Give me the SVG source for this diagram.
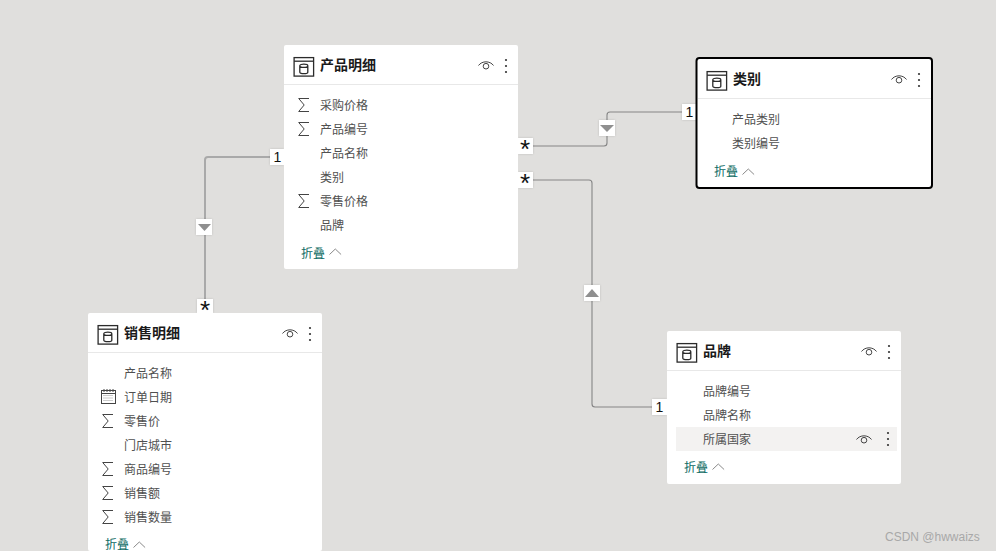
<svg xmlns="http://www.w3.org/2000/svg" width="996" height="551" viewBox="0 0 996 551">
<style>
text{font-family:"Noto Sans CJK SC","Liberation Sans",sans-serif}
.card{fill:#fff}
.rule{stroke:#e8e8e8;stroke-width:1}
.title{font-size:14px;font-weight:700;fill:#1a1a1a}
.field{font-size:12px;fill:#505050}
.fold{font-size:12px;fill:#0b6a62}
.foldc{fill:none;stroke:#8a8a8a;stroke-width:1}
.ln{fill:none;stroke:#858585;stroke-width:1.1}
.lnb{fill:none;stroke:#a9a9a9;stroke-width:2}
.box{fill:#fff;filter:drop-shadow(0 0 1px rgba(0,0,0,.15))}
.mk{font-size:14px;fill:#111;font-family:"Liberation Sans",sans-serif;text-anchor:middle}
.star{font-size:26px;fill:#111;font-family:"Liberation Sans",sans-serif;text-anchor:middle}
.tri{fill:#8f8f8f}
.ico{fill:none;stroke:#2b2b2b;stroke-width:1.3}
.thin{fill:none;stroke:#444;stroke-width:1}
.dot{fill:#333}
</style>
<defs>
<g id="table"><rect class="ico" x="0.6" y="0.6" width="19.500" height="18.500"/><path class="ico" d="M0.6 4.2H20.100"/><path class="ico" d="M6.300 8.800c0-2.200 8-2.200 8 0v6.400c0 2-8 2-8 0zM6.300 8.800c0 2.200 8 2.200 8 0"/></g>
<g id="eye"><path class="thin" d="M0.500 5.500C4 0.600 12 0.600 15.500 5.500"/><circle class="thin" cx="8" cy="6.200" r="2.800"/></g>
<g id="dots"><circle class="dot" cx="0" cy="0" r="1.100"/><circle class="dot" cx="0" cy="6" r="1.100"/><circle class="dot" cx="0" cy="12" r="1.100"/></g>
<path id="sigma" class="thin" d="M11 0.500H0.700L6.200 7 0.700 13.500H11"/>
<path id="chev" class="foldc" d="M0 6.500L5.800 1 11.600 6.500"/>
<g id="cal"><rect class="thin" x="0.500" y="1.500" width="14" height="13"/><path class="thin" d="M0.500 4.500H14.500M3 0V3M6 0V3M9 0V3M12 0V3"/><path d="M2.500 6.500H12.500M2.500 9H12.500M2.500 11.500H12.500" fill="none" stroke="#999" stroke-width="1" stroke-dasharray="1 1"/></g>
</defs>
<rect width="996" height="551" fill="#e0dfdd"/>
<g id="connectors">
<path class="lnb" d="M270 157H208Q205 157 205 160V300"/>
<path class="ln" d="M532 146H604Q607 146 607 143V115Q607 112 610 112H683"/>
<path class="ln" d="M532 180H589Q592 180 592 183V404Q592 407 595 407H653"/>
<rect class="box" x="270" y="149" width="14" height="16"/><text class="mk" x="277.500" y="162">1</text>
<rect class="box" x="196" y="219" width="16" height="16"/><path class="tri" d="M198 224H211L204.500 231Z"/>
<rect class="box" x="197" y="299" width="16" height="14"/><text class="star" x="205" y="319">*</text>
<rect class="box" x="518" y="138" width="15" height="16"/><text class="star" x="525" y="158">*</text>
<rect class="box" x="599" y="120" width="16" height="16"/><path class="tri" d="M600 125H614L607 132Z"/>
<rect class="box" x="682" y="104" width="15" height="16"/><text class="mk" x="689.500" y="117">1</text>
<rect class="box" x="518" y="172" width="15" height="16"/><text class="star" x="525" y="192">*</text>
<rect class="box" x="584" y="285" width="16" height="16"/><path class="tri" d="M585 297H599L592 289Z"/>
<rect class="box" x="652" y="399" width="15" height="16"/><text class="mk" x="659.500" y="412">1</text>
</g>
<g id="node-product">
<rect class="card" x="284" y="45" width="234" height="224" rx="2"/>
<path class="rule" d="M284 84.500H518"/>
<use href="#table" x="293.500" y="57"/>
<text class="title" x="320" y="70">产品明细</text>
<use href="#eye" x="478" y="60"/><use href="#dots" x="506" y="60"/>
<use href="#sigma" x="298" y="98"/><text class="field" x="320" y="110">采购价格</text>
<use href="#sigma" x="298" y="122"/><text class="field" x="320" y="134">产品编号</text>
<text class="field" x="320" y="158">产品名称</text>
<text class="field" x="320" y="182">类别</text>
<use href="#sigma" x="298" y="194"/><text class="field" x="320" y="206">零售价格</text>
<text class="field" x="320" y="230">品牌</text>
<text class="fold" x="301" y="258">折叠</text><use href="#chev" x="329.500" y="248"/>
</g>
<g id="node-category">
<rect x="696.500" y="58" width="235.500" height="130" rx="3" fill="#fff" stroke="#000" stroke-width="2"/>
<path class="rule" d="M698 98.500H931"/>
<use href="#table" x="706.500" y="71"/>
<text class="title" x="733" y="84">类别</text>
<use href="#eye" x="891" y="74"/><use href="#dots" x="919" y="74"/>
<text class="field" x="732" y="124">产品类别</text>
<text class="field" x="732" y="148">类别编号</text>
<text class="fold" x="714" y="176">折叠</text><use href="#chev" x="742.500" y="168"/>
</g>
<g id="node-sales">
<rect class="card" x="88" y="313" width="234" height="238" rx="2"/>
<path class="rule" d="M88 352.500H322"/>
<use href="#table" x="97.500" y="325"/>
<text class="title" x="124" y="338">销售明细</text>
<use href="#eye" x="282" y="328"/><use href="#dots" x="310" y="328"/>
<text class="field" x="124" y="378">产品名称</text>
<use href="#cal" x="101" y="389"/><text class="field" x="124" y="402">订单日期</text>
<use href="#sigma" x="102" y="414"/><text class="field" x="124" y="426">零售价</text>
<text class="field" x="124" y="450">门店城市</text>
<use href="#sigma" x="102" y="462"/><text class="field" x="124" y="474">商品编号</text>
<use href="#sigma" x="102" y="486"/><text class="field" x="124" y="498">销售额</text>
<use href="#sigma" x="102" y="510"/><text class="field" x="124" y="522">销售数量</text>
<text class="fold" x="105" y="549">折叠</text><use href="#chev" x="133.500" y="541"/>
</g>
<g id="node-brand">
<rect class="card" x="667" y="331" width="234" height="153" rx="2"/>
<path class="rule" d="M667 370.500H901"/>
<use href="#table" x="676.500" y="343"/>
<text class="title" x="703" y="356">品牌</text>
<use href="#eye" x="861" y="346"/><use href="#dots" x="889" y="346"/>
<text class="field" x="703" y="396">品牌编号</text>
<text class="field" x="703" y="420">品牌名称</text>
<rect x="676" y="427" width="221" height="24" fill="#f3f2f1"/>
<text class="field" x="703" y="444">所属国家</text>
<use href="#eye" x="856" y="434"/><use href="#dots" x="888" y="433"/>
<text class="fold" x="684" y="472">折叠</text><use href="#chev" x="712.500" y="463"/>
</g>
<text x="885" y="541" font-size="12" fill="#a8a8a8" style="font-family:'Liberation Sans',sans-serif">CSDN @hwwaizs</text>
</svg>
